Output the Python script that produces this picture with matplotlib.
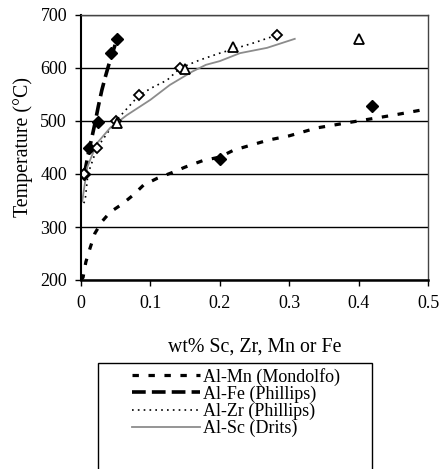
import matplotlib
matplotlib.use("Agg")
import matplotlib.pyplot as plt
from matplotlib.patches import Rectangle

plt.rcParams['font.family'] = ['Liberation Serif', 'DejaVu Serif']
plt.rcParams['font.size'] = 13

# Solubility curves (wt%, temperature in C)
mn_x = [0, 0.003, 0.007, 0.013, 0.02, 0.03, 0.042, 0.059, 0.075, 0.09, 0.11, 0.13,
        0.15, 0.175, 0.2, 0.22, 0.27, 0.3, 0.34, 0.39, 0.45, 0.5]
mn_t = [200, 205, 234, 260, 288, 310, 328, 343, 360, 379, 392, 402,
        413, 425, 432, 445, 464, 472, 487, 498, 511, 523]

fe_x = [0.005, 0.01, 0.015, 0.02, 0.025, 0.03, 0.035, 0.04, 0.045, 0.05, 0.053]
fe_t = [400, 435, 465, 495, 528, 558, 583, 606, 627, 647, 658]

zr_x = [0.004, 0.006, 0.01, 0.023, 0.05, 0.084, 0.104, 0.124, 0.143, 0.171, 0.2, 0.248, 0.282]
zr_t = [345, 351, 400, 449, 500, 549, 564, 577, 600, 615, 628, 647, 662]

sc_x = [0.0, 0.002, 0.009, 0.023, 0.042, 0.066, 0.1, 0.128, 0.16, 0.18, 0.2, 0.229, 0.268, 0.308]
sc_t = [345, 350, 413, 458, 487, 511, 540, 568, 593, 606, 613, 628, 638, 655]

# Measured points
mn_pts_x = [0.2, 0.42]
mn_pts_t = [428, 528]
fe_pts_x = [0.005, 0.012, 0.025, 0.043, 0.052]
fe_pts_t = [400, 449, 498, 628, 655]
zr_pts_x = [0.005, 0.023, 0.05, 0.084, 0.143, 0.282]
zr_pts_t = [400, 449, 500, 549, 600, 662]
sc_pts_x = [0.052, 0.15, 0.219, 0.401]
sc_pts_t = [496, 598, 640, 655]

fig = plt.figure(figsize=(4.4, 4.69), dpi=100)
ax = fig.add_axes([81 / 440, 1 - 280 / 469, 347 / 440, 265 / 469])

ax.plot(mn_x, mn_t, color='black', lw=2.3, dashes=(2.0, 3.0), label='Al-Mn (Mondolfo)')
ax.plot(fe_x, fe_t, color='black', lw=2.6, dashes=(3.8, 1.7), label='Al-Fe (Phillips)')
ax.plot(zr_x, zr_t, color='black', lw=1.2, dashes=(1, 2.5), label='Al-Zr (Phillips)')
ax.plot(sc_x, sc_t, color='#8c8c8c', lw=1.3, label='Al-Sc (Drits)')

ax.plot(mn_pts_x, mn_pts_t, 'D', color='black', ms=6.5, ls='none')
ax.plot(fe_pts_x, fe_pts_t, 'D', color='black', ms=6.5, ls='none')
ax.plot(zr_pts_x, zr_pts_t, 'D', mfc='white', mec='black', mew=1.3, ms=5, ls='none')
ax.plot(sc_pts_x, sc_pts_t, '^', mfc='white', mec='black', mew=1.3, ms=7, ls='none')

ax.set_xlim(0, 0.5)
ax.set_ylim(200, 700)
ax.set_xticks([0, 0.1, 0.2, 0.3, 0.4, 0.5])
ax.set_xticklabels(['0', '0.1', '0.2', '0.3', '0.4', '0.5'])
ax.set_yticks(range(200, 701, 100))
ax.yaxis.grid(True, color='black', lw=1.0)
ax.set_axisbelow(True)
ax.tick_params(direction='out', length=4, width=1)
ax.tick_params(axis='x', pad=7)
ax.tick_params(axis='y', pad=6)

ax.spines['left'].set_linewidth(1.5)
ax.spines['bottom'].set_linewidth(1.8)
for side in ('top', 'right'):
    ax.spines[side].set_color('#444444')
    ax.spines[side].set_linewidth(1.0)

ax.set_xlabel('wt% Sc, Zr, Mn or Fe', fontsize=14.3, labelpad=18)
ax.set_ylabel('Temperature (°C)', fontsize=14.3, labelpad=5)

# Legend box runs off the bottom edge
fig.patches.append(Rectangle((98 / 440, -0.05), 274 / 440, 1 - 363 / 469 + 0.05,
                             transform=fig.transFigure, fill=False,
                             edgecolor='black', lw=1.0))
fig.legend(loc='upper left', bbox_to_anchor=(128 / 440, 1 - 364 / 469),
           frameon=False, handlelength=3.8, handletextpad=0.15,
           labelspacing=0.0, borderaxespad=0, borderpad=0.2)

fig.savefig('out.png', dpi=100)
